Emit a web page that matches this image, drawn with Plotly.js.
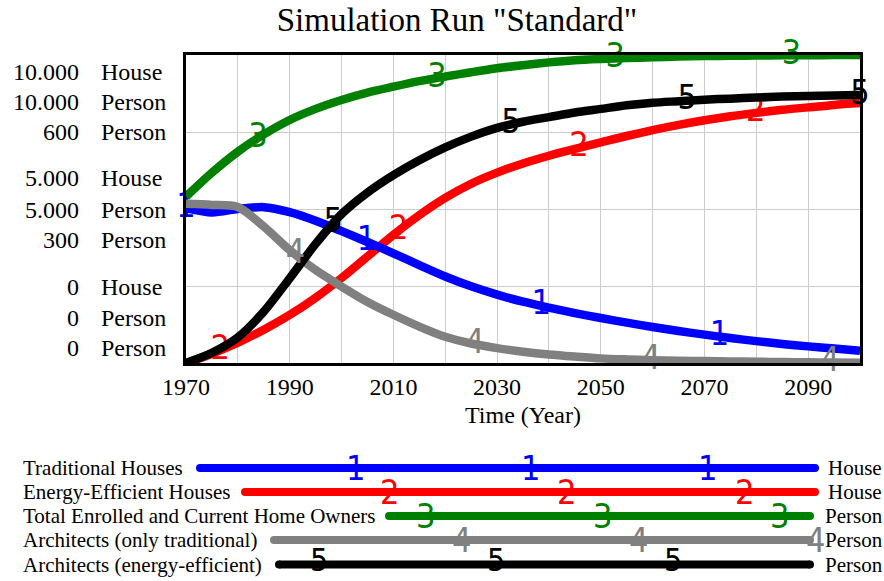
<!DOCTYPE html>
<html>
<head>
<meta charset="utf-8">
<script src="https://cdn.plot.ly/plotly-3.0.1.min.js"></script>
<style>
  html, body { margin: 0; padding: 0; background: #ffffff; }
  #chart { width: 884px; height: 581px; }
</style>
</head>
<body>
<div id="chart"></div>
<script>
// ---------------- DATA ----------------
const years = [1970,1975,1980,1985,1990,1995,2000,2005,2010,2015,2020,2025,2030,2035,2040,2045,2050,2055,2060,2065,2070,2075,2080,2085,2090,2095,2100];

// 1: Traditional Houses (House, scale 0-10000)
const traditionalHouses = [5030,4890,5000,5060,4900,4620,4280,3930,3560,3180,2810,2490,2220,1990,1800,1620,1460,1310,1170,1040,920,810,710,620,540,470,400];
// 2: Energy-Efficient Houses (House, scale 0-10000)
const energyEfficientHouses = [0,300,660,1080,1560,2120,2760,3460,4160,4800,5360,5820,6180,6480,6730,6950,7160,7370,7560,7730,7880,8010,8120,8220,8300,8380,8440];
// 3: Total Enrolled and Current Home Owners (Person, scale 0-10000)
const totalHomeOwners = [5400,6180,6860,7420,7890,8250,8540,8780,8970,9150,9300,9440,9570,9670,9760,9830,9870,9900,9925,9950,9965,9975,9982,9988,9993,9997,10000];
// 4: Architects (only traditional) (Person, scale 0-600)
const architectsTraditional = [310,308,304,266,220,181,149,119,94,71,51,38,29,22,16.5,12.5,9,7,5.5,4.5,3.7,3,2.4,1.8,1.3,0.9,0.6];
// 5: Architects (energy-efficient) (Person, scale 0-600)
const architectsEfficient = [0,20,50,100,165,232,290,332,366,395,420,441,458,470,479,488,495,502,507,510,513,515,517,519,520,521,522];

const seriesNames = ["Traditional Houses","Energy-Efficient Houses","Total Enrolled and Current Home Owners","Architects (only traditional)","Architects (energy-efficient)"];
const seriesUnits = ["House","House","Person","Person","Person"];
const seriesIds = ["1","2","3","4","5"];

// years at which the series number is written on each line
const labelYears = [
  [1970, 2004.8, 2038.5, 2072.9],
  [1976.6, 2011, 2045.8, 2079.9],
  [1983.9, 2018.4, 2052.8, 2086.8],
  [1991.1, 2025.7, 2059.7, 2094.2],
  [1998.4, 2032.7, 2066.7, 2100]
];

// axis scale labels (value, unit), three scales per gridline group
const yScaleValues = ["10.000","10.000","600","5.000","5.000","300","0","0","0"];
const yScaleUnits  = ["House","Person","Person","House","Person","Person","House","Person","Person"];
const xTickYears = [1970,1980,1990,2000,2010,2020,2030,2040,2050,2060,2070,2080,2090,2100];
const xTickLabelled = [1970,1990,2010,2030,2050,2070,2090];

// ---------------- STYLE / LAYOUT ----------------
const W = 884, H = 581, ML = 186, MR = 24, MT = 55, MB = 218;
const PW = W - ML - MR, PH = H - MT - MB;
const px = x => (x - ML) / PW;
const py = y => (H - MB - y) / PH;

const colors = ["#0000ff","#ff0000","#008000","#808080","#000000"];
const serif = "Liberation Serif, Times New Roman, serif";
const numFont = "Liberation Sans Narrow, Arial Narrow, DejaVu Sans Condensed, Liberation Sans, sans-serif";

const dataSets = [traditionalHouses, energyEfficientHouses, totalHomeOwners, architectsTraditional, architectsEfficient];
const yAxes = ["y","y","y2","y3","y3"];

function interp(xs, ys, x) {
  if (x <= xs[0]) return ys[0];
  for (let i = 1; i < xs.length; i++) {
    if (x <= xs[i]) {
      const t = (x - xs[i-1]) / (xs[i] - xs[i-1]);
      return ys[i-1] + t * (ys[i] - ys[i-1]);
    }
  }
  return ys[ys.length - 1];
}

const drawOrder = [1, 3, 4, 2, 0];
const traces = [];
drawOrder.forEach(i => {
  traces.push({
    x: years, y: dataSets[i], yaxis: yAxes[i],
    type: "scatter", mode: "lines", name: seriesNames[i],
    line: { color: colors[i], width: 8.5, shape: "spline", smoothing: 0.8 },
    cliponaxis: false, hoverinfo: "skip"
  });
});
drawOrder.forEach(i => {
  traces.push({
    x: labelYears[i], y: labelYears[i].map(v => interp(years, dataSets[i], v)),
    yaxis: yAxes[i], type: "scatter", mode: "text",
    text: labelYears[i].map(() => seriesIds[i]),
    textposition: "middle center",
    textfont: { family: numFont, size: 34, color: colors[i] },
    cliponaxis: false, hoverinfo: "skip", showlegend: false
  });
});

const annotations = [];
// y-scale labels
const yLabelPix = [71.7, 101.7, 131.7, 178, 210, 240, 286.7, 318, 348];
yScaleValues.forEach((v, k) => {
  annotations.push({ xref: "paper", yref: "paper", x: px(81), y: py(yLabelPix[k]), xanchor: "right", yanchor: "middle",
    text: v, showarrow: false, font: { family: serif, size: 24, color: "#000" } });
  annotations.push({ xref: "paper", yref: "paper", x: px(99), y: py(yLabelPix[k]), xanchor: "left", yanchor: "middle",
    text: yScaleUnits[k], showarrow: false, font: { family: serif, size: 24, color: "#000" } });
});

// custom legend
const rowY = [468, 492, 516, 540, 564.5];
const lineStart = [200, 245, 389, 274, 279];
const lineEnd = [815, 815, 810, 810, 810];
const legendNumX = [
  [355, 530, 707],
  [389, 566, 744],
  [425.6, 602, 779.6],
  [461, 638.7, 815.7],
  [318.5, 496, 672.5]
];
const shapes = [];
seriesNames.forEach((nm, i) => {
  const y = rowY[i];
  annotations.push({ xref: "paper", yref: "paper", x: px(21), y: py(y), xanchor: "left", yanchor: "middle",
    text: nm, showarrow: false, font: { family: serif, size: 21, color: "#000" } });
  annotations.push({ xref: "paper", yref: "paper", x: px(i < 2 ? 826 : 823), y: py(y), xanchor: "left", yanchor: "middle",
    text: seriesUnits[i], showarrow: false, font: { family: serif, size: 21, color: "#000" } });
  shapes.push({ type: "line", xref: "paper", yref: "paper", x0: px(lineStart[i]), x1: px(lineEnd[i]), y0: py(y), y1: py(y),
    line: { color: colors[i], width: 8 } });
  [lineStart[i], lineEnd[i]].forEach(cx => {
    shapes.push({ type: "circle", xref: "paper", yref: "paper", x0: px(cx - 4), x1: px(cx + 4), y0: py(y + 4), y1: py(y - 4),
      fillcolor: colors[i], line: { width: 0 } });
  });
  const lastRow = i === seriesNames.length - 1;
  legendNumX[i].forEach(nx => {
    annotations.push({ xref: "paper", yref: "paper", x: px(nx), y: lastRow ? py(580.5) : py(y), xanchor: "center",
      yanchor: lastRow ? "bottom" : "middle",
      text: seriesIds[i], showarrow: false, font: { family: numFont, size: lastRow ? 32 : 34, color: colors[i] } });
  });
});

const layout = {
  width: W, height: H,
  margin: { l: ML, r: MR, t: MT, b: MB, pad: 0 },
  paper_bgcolor: "#ffffff", plot_bgcolor: "#ffffff",
  showlegend: false,
  title: { text: 'Simulation Run "Standard"', font: { family: serif, size: 33, color: "#000" },
    x: 457 / W, xanchor: "center", xref: "container", y: 1 - 19 / H, yanchor: "middle", yref: "container" },
  xaxis: {
    range: [1970, 2100], tickmode: "array", tickvals: xTickYears,
    ticktext: xTickYears.map(v => xTickLabelled.includes(v) ? String(v) : ""),
    ticks: "", showgrid: true, gridcolor: "#cccccc", gridwidth: 1, zeroline: false,
    showline: true, mirror: true, linecolor: "#000", linewidth: 3,
    tickfont: { family: serif, size: 24, color: "#000" },
    title: { text: "Time (Year)", font: { family: serif, size: 24, color: "#000" }, standoff: 8 }
  },
  yaxis: {
    range: [0, 10000], tickmode: "array", tickvals: [0, 2500, 5000, 7500, 10000],
    showticklabels: false, ticks: "", showgrid: true, gridcolor: "#cccccc", gridwidth: 1, zeroline: false,
    showline: true, mirror: true, linecolor: "#000", linewidth: 3
  },
  yaxis2: { range: [0, 10000], overlaying: "y", visible: false, showgrid: false },
  yaxis3: { range: [0, 600], overlaying: "y", visible: false, showgrid: false },
  annotations: annotations,
  shapes: shapes
};

Plotly.newPlot("chart", traces, layout, { staticPlot: true, displayModeBar: false });
</script>
</body>
</html>
